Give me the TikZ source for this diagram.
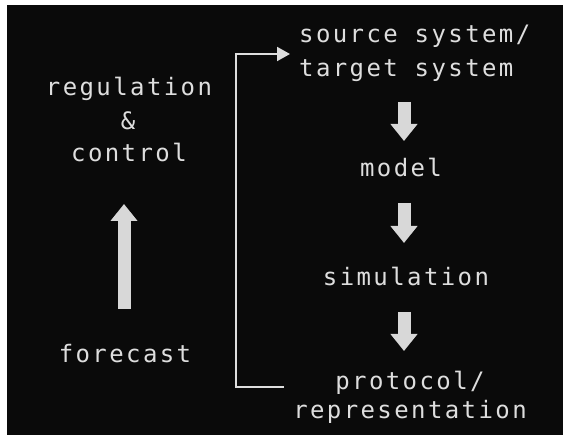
\documentclass[tikz,border=0pt]{standalone}
\usepackage{fontspec}
\newfontfamily\monofont[LetterSpace=10]{DejaVu Sans Mono}
\usetikzlibrary{arrows.meta}
\definecolor{fg}{HTML}{DEDEDE}
\definecolor{arr}{HTML}{D8D8D8}
\definecolor{bg}{HTML}{0A0A0A}
\begin{document}
\begin{tikzpicture}[x=1pt,y=-1pt,
  lbl/.style={text=fg, font=\monofont\fontsize{24}{28}\selectfont, inner sep=0pt, anchor=base},
  blockarrow/.style={draw=arr, line width=13pt, -{Triangle[width=26pt,length=17pt]}},
  bracketline/.style={draw=fg, line width=2pt, line join=miter, -{Triangle[width=14pt,length=13pt]}}]
\fill[white] (0,0) rectangle (563,435);
\fill[bg] (7,5) rectangle (563,435);
\useasboundingbox (0,0) rectangle (563,435);
% right column
\node[lbl, anchor=base west] (src1) at (299,43) {source system/};
\node[lbl, anchor=base west] (src2) at (299,77) {target system};
\node[lbl] (model) at (401,177) {model};
\node[lbl] (sim) at (406,286) {simulation};
\node[lbl] (prot1) at (410,390) {protocol/};
\node[lbl] (prot2) at (410,419) {representation};
% left column
\node[lbl] (reg) at (129,96) {regulation};
\node[lbl] (amp) at (128,130) {\&};
\node[lbl] (ctrl) at (129,162) {control};
\node[lbl] (fc) at (125,363) {forecast};
% block arrows
\coordinate (a1s) at (404,102);
\coordinate (a1e) at (404,141);
\coordinate (a2s) at (404,203);
\coordinate (a2e) at (404,243);
\coordinate (a3s) at (404,312);
\coordinate (a3e) at (404,351);
\coordinate (a4s) at (124,309);
\coordinate (a4e) at (124,204);
\draw[blockarrow] (a1s) -- (a1e);
\draw[blockarrow] (a2s) -- (a2e);
\draw[blockarrow] (a3s) -- (a3e);
\draw[blockarrow] (a4s) -- (a4e);
% feedback bracket
\coordinate (bstart) at (284,387);
\coordinate (bend) at (290,54);
\draw[bracketline] (bstart) -- (236,387) -- (236,54) -- (bend);
\end{tikzpicture}
\end{document}
